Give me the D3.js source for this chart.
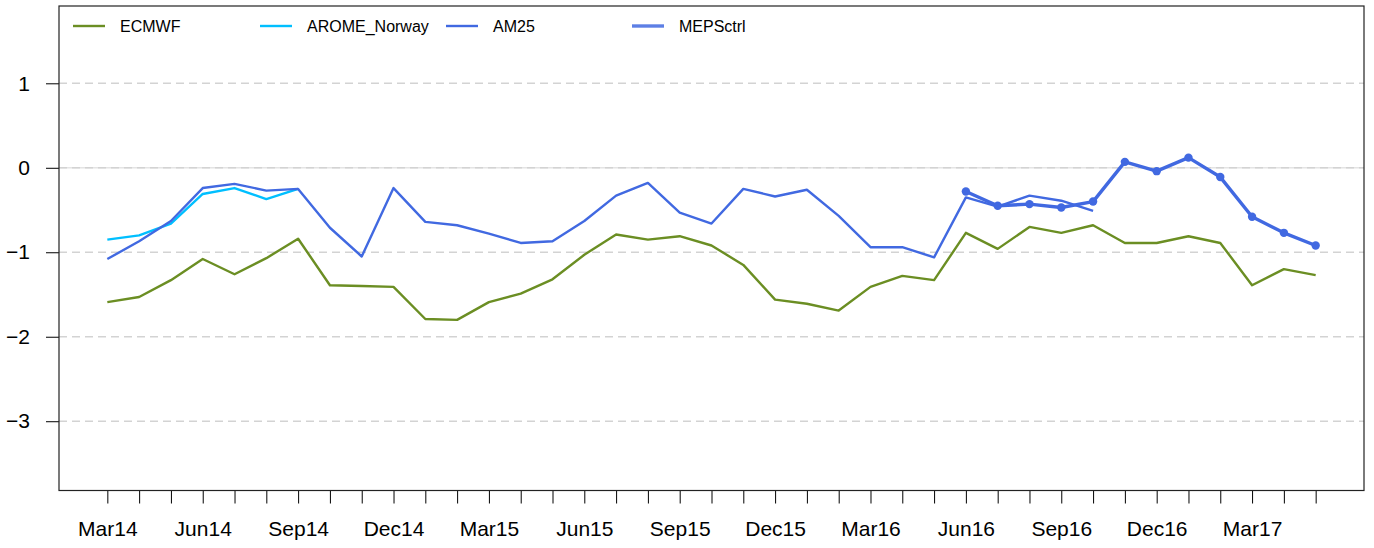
<!DOCTYPE html>
<html>
<head>
<meta charset="utf-8">
<script src="https://cdn.jsdelivr.net/npm/d3@7"></script>
<style>
  body { margin: 0; background: #fff; }
  svg { display: block; font-family: "Liberation Sans", Arial, sans-serif; }
</style>
</head>
<body>
<div id="plot"></div>
<script>
// monthly series, Mar14 .. May17
const months = ["Mar14","Apr14","May14","Jun14","Jul14","Aug14","Sep14","Oct14","Nov14","Dec14",
  "Jan15","Feb15","Mar15","Apr15","May15","Jun15","Jul15","Aug15","Sep15","Oct15","Nov15","Dec15",
  "Jan16","Feb16","Mar16","Apr16","May16","Jun16","Jul16","Aug16","Sep16","Oct16","Nov16","Dec16",
  "Jan17","Feb17","Mar17","Apr17","May17"];

const ecmwf = [-1.59,-1.53,-1.33,-1.08,-1.26,-1.07,-0.84,-1.39,-1.40,-1.41,
  -1.79,-1.80,-1.59,-1.49,-1.32,-1.03,-0.79,-0.85,-0.81,-0.92,-1.15,-1.56,
  -1.61,-1.69,-1.41,-1.28,-1.33,-0.77,-0.96,-0.70,-0.77,-0.68,-0.89,-0.89,
  -0.81,-0.89,-1.39,-1.20,-1.27];

const aromeNorway = [-0.85,-0.80,-0.66,-0.31,-0.24,-0.37,-0.25];

const am25 = [-1.08,-0.87,-0.63,-0.24,-0.19,-0.27,-0.25,-0.71,-1.05,-0.24,
  -0.64,-0.68,-0.78,-0.89,-0.87,-0.63,-0.33,-0.18,-0.53,-0.66,-0.25,-0.34,
  -0.26,-0.57,-0.94,-0.94,-1.06,-0.35,-0.46,-0.33,-0.39,-0.51];

// MEPSctrl starts Jun16 (index 27)
const mepsStart = 27;
const mepsCtrl = [-0.28,-0.45,-0.43,-0.47,-0.40,0.07,-0.04,0.12,-0.11,-0.58,-0.77,-0.92];

const yTicks = [1, 0, -1, -2, -3];
const labelMonths = ["Mar","Jun","Sep","Dec"];

const series = [
  {name: "ECMWF", color: "#6B8E23", width: 2.4, values: ecmwf.map((v, i) => ({i, v}))},
  {name: "AROME_Norway", color: "#00BFFF", width: 2.4, values: aromeNorway.map((v, i) => ({i, v}))},
  {name: "AM25", color: "#4169E1", width: 2.4, values: am25.map((v, i) => ({i, v}))},
  {name: "MEPSctrl", color: "#4169E1", width: 3.4, dots: true,
    values: mepsCtrl.map((v, i) => ({i: i + mepsStart, v}))}
];

const w = 1374, h = 548;
const box = {left: 59, right: 1364, top: 6, bottom: 490.5};

const svg = d3.select("#plot").append("svg")
    .attr("width", w)
    .attr("height", h);

const xScale = d3.scaleLinear()
    .domain([-1.52, months.length - 1 + 1.52])
    .range([box.left, box.right]);

const yScale = d3.scaleLinear()
    .domain([-3.82, 1.915])
    .range([box.bottom, box.top]);

// grid lines
svg.append("line")
    .attr("x1", box.left).attr("x2", box.right)
    .attr("y1", yScale(0)).attr("y2", yScale(0))
    .attr("stroke", "#e4e4e4").attr("stroke-width", 1.5);

svg.append("g").selectAll("line")
  .data(yTicks)
  .enter().append("line")
    .attr("x1", box.left).attr("x2", box.right)
    .attr("y1", d => yScale(d)).attr("y2", d => yScale(d))
    .attr("stroke", "#d3d3d3")
    .attr("stroke-width", 1.5)
    .attr("stroke-dasharray", "8,5");

// lines
const line = d3.line()
    .x(d => xScale(d.i))
    .y(d => yScale(d.v));

series.forEach(s => {
  svg.append("path")
      .datum(s.values)
      .attr("d", line)
      .attr("fill", "none")
      .attr("stroke", s.color)
      .attr("stroke-width", s.width)
      .attr("stroke-linejoin", "round");
  if (s.dots) {
    svg.append("g").selectAll("circle")
      .data(s.values)
      .enter().append("circle")
        .attr("cx", d => xScale(d.i))
        .attr("cy", d => yScale(d.v))
        .attr("r", 4.2)
        .attr("fill", s.color);
  }
});

// axes
const xAxis = d3.axisBottom(xScale)
    .tickValues(d3.range(months.length))
    .tickSize(13)
    .tickPadding(18)
    .tickFormat(i => labelMonths.includes(months[i].slice(0, 3)) ? months[i] : "");

const gx = svg.append("g")
    .attr("transform", `translate(0, ${box.bottom})`)
    .call(xAxis);
gx.select(".domain").remove();
gx.selectAll("text")
    .attr("font-size", 21)
    .attr("font-family", "Liberation Sans, Arial, sans-serif")
    .attr("fill", "#000");

const yAxis = d3.axisLeft(yScale)
    .tickValues(yTicks)
    .tickSize(13)
    .tickPadding(16)
    .tickFormat(d => d < 0 ? "\u2212" + Math.abs(d) : d);

const gy = svg.append("g")
    .attr("transform", `translate(${box.left}, 0)`)
    .call(yAxis);
gy.select(".domain").remove();
gy.selectAll("text")
    .attr("font-size", 21)
    .attr("font-family", "Liberation Sans, Arial, sans-serif")
    .attr("fill", "#000");

// box
svg.append("rect")
    .attr("x", box.left).attr("y", box.top)
    .attr("width", box.right - box.left)
    .attr("height", box.bottom - box.top)
    .attr("fill", "none")
    .attr("stroke", "#222")
    .attr("stroke-width", 1.2);

// legend
const legendX = [73, 260, 446, 632];
const legend = svg.append("g").selectAll("g")
  .data(series)
  .enter().append("g")
    .attr("transform", (d, k) => `translate(${legendX[k]}, 26)`);

legend.append("line")
    .attr("x1", 0).attr("x2", 32)
    .attr("stroke", d => d.color)
    .attr("stroke-opacity", d => d.dots ? 0.85 : 1)
    .attr("stroke-width", d => d.width);

legend.append("text")
    .attr("x", 47)
    .attr("y", 6)
    .attr("font-size", 16)
    .text(d => d.name);
</script>
</body>
</html>
